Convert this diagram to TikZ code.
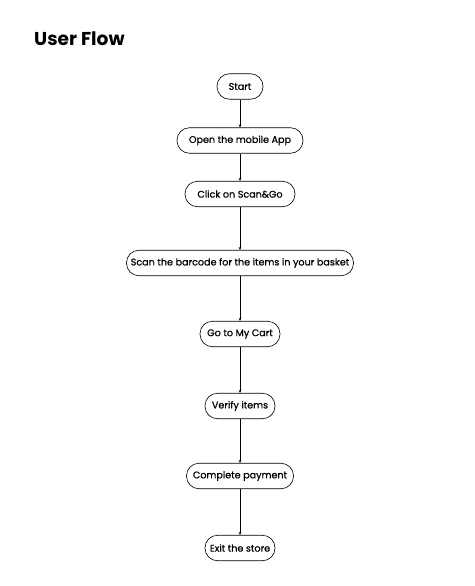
\documentclass[tikz,border=0pt]{standalone}
\usepackage{fontspec}
\setmainfont{Poppins}
\newfontfamily\flowfont[RawFeature={embolden=0.8}]{Poppins}
\usetikzlibrary{arrows.meta}
\begin{document}
\begin{tikzpicture}[x=1pt,y=-1pt,
  flowbox/.style={draw, line width=0.6pt, rounded corners=12.5pt, minimum height=25.5pt,
    inner xsep=4pt, font=\flowfont\fontsize{9.6}{11}\selectfont},
  flowarrow/.style={-{Stealth[length=3pt,width=2.6pt]}, line width=0.6pt}]
\useasboundingbox (0,0) rectangle (474,586);
\node[anchor=base west, inner sep=0pt, font=\fontsize{18.6}{22}\selectfont\bfseries] (title) at (34,46) {User Flow};

\node[flowbox, minimum width=46pt] (start) at (240,86.5) {Start};
\node[flowbox, minimum width=126pt] (open) at (240,140.5) {Open the mobile App};
\node[flowbox, minimum width=110pt] (scango) at (240,194) {Click on Scan\&Go};
\node[flowbox, minimum width=227pt] (scan) at (240,263) {Scan the barcode for the items in your basket};
\node[flowbox, minimum width=80pt] (cart) at (240,334) {Go to My Cart};
\node[flowbox, minimum width=70pt] (verify) at (240,406) {Verify items};
\node[flowbox, minimum width=107pt] (pay) at (240,476) {Complete payment};
\node[flowbox, minimum width=70pt] (exit) at (240,548) {Exit the store};

\draw[flowarrow] (start) -- (open);
\draw[flowarrow] (open) -- (scango);
\draw[flowarrow] (scango) -- (scan);
\draw[flowarrow] (scan) -- (cart);
\draw[flowarrow] (cart) -- (verify);
\draw[flowarrow] (verify) -- (pay);
\draw[flowarrow] (pay) -- (exit);
\end{tikzpicture}
\end{document}
